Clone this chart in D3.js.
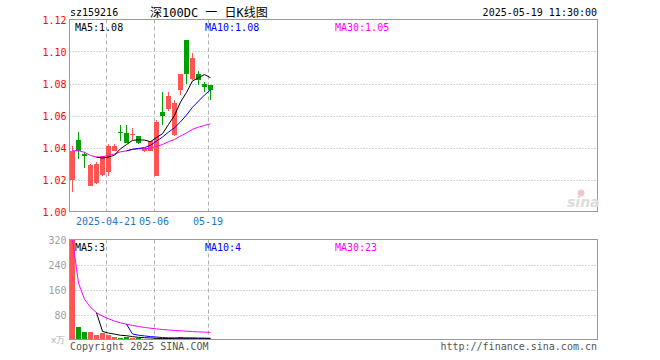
<!DOCTYPE html>
<html><head><meta charset="utf-8">
<script src="https://cdn.jsdelivr.net/npm/d3@7"></script>
<style>
body{margin:0;background:#fff}
svg{display:block}
text{font-family:"DejaVu Sans Mono","Liberation Mono",monospace;font-size:10px}
</style>
</head><body>
<svg id="c" width="660" height="360"></svg>
<script>
// ---- data ----
const code = "sz159216";
const title = "深100DC 一 日K线图";
const stamp = "2025-05-19 11:30:00";
const dates = ["2025-04-11","2025-04-14","2025-04-15","2025-04-16","2025-04-17","2025-04-18",
  "2025-04-21","2025-04-22","2025-04-23","2025-04-24","2025-04-25","2025-04-28","2025-04-29",
  "2025-04-30","2025-05-06","2025-05-07","2025-05-08","2025-05-09","2025-05-12","2025-05-13",
  "2025-05-14","2025-05-15","2025-05-16","2025-05-19"];
const open  = [1.020,1.045,1.036,1.016,1.018,1.023,1.025,1.038,1.0495,1.049,1.0478,1.047,1.038,1.038,1.022,1.062,1.064,1.048,1.076,1.107,1.083,1.086,1.080,1.079];
const high  = [1.041,1.050,1.037,1.030,1.031,1.035,1.042,1.042,1.054,1.054,1.052,1.047,1.040,1.044,1.057,1.075,1.075,1.070,1.086,1.107,1.099,1.088,1.081,1.079];
const low   = [1.012,1.033,1.027,1.016,1.017,1.022,1.022,1.038,1.044,1.043,1.045,1.042,1.037,1.038,1.022,1.054,1.063,1.047,1.073,1.080,1.082,1.079,1.075,1.070];
const close = [1.038,1.038,1.035,1.029,1.030,1.035,1.041,1.041,1.049,1.043,1.0482,1.043,1.040,1.044,1.056,1.060,1.072,1.068,1.086,1.086,1.096,1.082,1.078,1.076];
const volume = [320,41.6,25.6,25.6,16,20.3,15,9.6,6.4,9.6,5.3,4,3,3,3.5,2.5,6,4,7,3.5,3.5,2.5,3,2.5];
const dateTickIdx = [6,14,23];
const priceTicks = [1.00,1.02,1.04,1.06,1.08,1.10,1.12];
const volTicks = [80,160,240,320];
const volUnit = "x万";

// ---- helpers ----
function ma(arr, n, partial){
  return arr.map((d,i)=>{
    if(i < n-1 && !partial) return null;
    const s = arr.slice(Math.max(0,i-n+1), i+1);
    return d3.mean(s);
  });
}
const RED="#ff5555", GREEN="#00a000", GRID="#aaaaaa", BORDER="#999999";

const svg = d3.select("#c");
const L=69.5, R=597.5, PT=19.5, PB=211.5, VT=239.5, VB=339.5;
const nSlots = 88;
const x = d3.scaleBand().domain(d3.range(nSlots)).range([L,R]).paddingInner(1/6).paddingOuter(1/12);
const bw = x.bandwidth();
const y = d3.scaleLinear().domain([1.00,1.12]).range([PB,PT]);
const yv = d3.scaleLinear().domain([0,320]).range([VB,VT]);
const idx = d3.range(dates.length);

// ---- grids ----
const gP = svg.append("g");
gP.selectAll("line.h").data(priceTicks.slice(1,-1)).join("line")
  .attr("x1",L).attr("x2",R).attr("y1",d=>Math.round(y(d))+0.5).attr("y2",d=>Math.round(y(d))+0.5)
  .attr("stroke",GRID).attr("stroke-dasharray","1,2");
gP.selectAll("line.hv").data(volTicks.slice(0,-1)).join("line")
  .attr("x1",L).attr("x2",R).attr("y1",d=>Math.round(yv(d))+0.5).attr("y2",d=>Math.round(yv(d))+0.5)
  .attr("stroke",GRID).attr("stroke-dasharray","1,2");
dateTickIdx.forEach(i=>{
  const xx = Math.round(x(i))+0.5;
  [[PT,PB],[VT,VB]].forEach(([a,b])=>{
    svg.append("line").attr("x1",xx).attr("x2",xx).attr("y1",a).attr("y2",b)
      .attr("stroke","#b0b0b0").attr("stroke-dasharray","4,3");
  });
});

// ---- candles ----
const cg = svg.append("g").attr("shape-rendering","crispEdges");
const col = i => close[i] < open[i] ? GREEN : RED;
cg.selectAll("line.w").data(idx).join("line")
  .attr("x1",i=>x(i)+bw/2).attr("x2",i=>x(i)+bw/2)
  .attr("y1",i=>y(high[i])).attr("y2",i=>y(low[i]))
  .attr("stroke",col);
cg.selectAll("rect.b").data(idx).join("rect")
  .attr("x",i=>x(i)).attr("width",bw)
  .attr("y",i=>y(Math.max(open[i],close[i])))
  .attr("height",i=>Math.max(1,Math.abs(y(open[i])-y(close[i]))))
  .attr("fill",col);

// ---- volume bars ----
cg.selectAll("rect.v").data(idx).join("rect")
  .attr("x",i=>x(i)).attr("width",bw)
  .attr("y",i=>yv(volume[i])).attr("height",i=>Math.max(1,VB-yv(volume[i])))
  .attr("fill",col);

// ---- MA lines ----
const pm5=ma(close,5), pm10=ma(close,10), pm30=ma(close,30,true);
const vm5=ma(volume,5), vm10=ma(volume,10), vm30=ma(volume,30,true);
function drawLine(vals, sc, color){
  const line = d3.line().defined(d=>d!=null).x((d,i)=>x(i)+bw/2).y(d=>sc(d));
  svg.append("path").datum(vals).attr("d",line).attr("fill","none")
    .attr("stroke",color).attr("stroke-width",1);
}
drawLine(pm30,y,"#ff00ff"); drawLine(pm10,y,"#0000ff"); drawLine(pm5,y,"#000000");
drawLine(vm30,yv,"#ff00ff"); drawLine(vm10,yv,"#0000ff"); drawLine(vm5,yv,"#000000");

// ---- borders ----
svg.append("rect").attr("x",L).attr("y",PT).attr("width",R-L).attr("height",PB-PT)
  .attr("fill","none").attr("stroke",BORDER);
svg.append("rect").attr("x",L).attr("y",VT).attr("width",R-L).attr("height",VB-VT)
  .attr("fill","none").attr("stroke",BORDER);

// ---- axes ----
const ay = svg.append("g").attr("transform",`translate(${L-3},0)`)
  .call(d3.axisLeft(y).tickValues(priceTicks).tickSize(0).tickPadding(0).tickFormat(d3.format(".2f")));
ay.select(".domain").remove();
ay.selectAll("text").attr("fill","#ff0000").style("font-size","10px").attr("dy","0.4em");

const av = svg.append("g").attr("transform",`translate(${L-3},0)`)
  .call(d3.axisLeft(yv).tickValues(volTicks).tickSize(0).tickPadding(0));
av.select(".domain").remove();
av.selectAll("text").attr("fill","#a0a0a0").style("font-size","10px").attr("dy","0.4em");
svg.append("text").attr("x",L-4).attr("y",VB+3).attr("text-anchor","end")
  .attr("fill","#b0b0b0").style("font-size","9px").text(volUnit);

const ax = svg.append("g").attr("transform",`translate(0,${PB})`)
  .call(d3.axisBottom(x).tickValues(dateTickIdx).tickSize(0).tickPadding(0)
    .tickFormat((i,k)=> k===0 ? dates[i] : dates[i].slice(5)));
ax.select(".domain").remove();
ax.selectAll("text").attr("fill","#1a78c8").style("font-size","10px").attr("dy","1.3em")
  .attr("transform",`translate(${-bw/2},0)`);

// ---- header texts ----
svg.append("text").attr("x",70).attr("y",16).attr("fill","#000").text(code);
svg.append("text").attr("x",150).attr("y",17).attr("fill","#000")
  .style("font-size","12px").style("font-family","'DejaVu Sans Mono','Noto Sans CJK SC',monospace").text(title);
svg.append("text").attr("x",597).attr("y",16).attr("text-anchor","end").attr("fill","#000").text(stamp);

const f2 = d3.format(".2f");
const last = a => a[a.length-1];
svg.append("text").attr("x",75).attr("y",31).attr("fill","#000").text("MA5:"+f2(last(pm5)));
svg.append("text").attr("x",205).attr("y",31).attr("fill","#0000ff").text("MA10:"+f2(last(pm10)));
svg.append("text").attr("x",335).attr("y",31).attr("fill","#ff00ff").text("MA30:"+f2(last(pm30)));
svg.append("text").attr("x",75).attr("y",251).attr("fill","#000").text("MA5:"+Math.round(last(vm5)));
svg.append("text").attr("x",205).attr("y",251).attr("fill","#0000ff").text("MA10:"+Math.round(last(vm10)));
svg.append("text").attr("x",335).attr("y",251).attr("fill","#ff00ff").text("MA30:"+Math.round(last(vm30)));

svg.append("text").attr("x",70).attr("y",350).attr("fill","#555").text("Copyright 2025 SINA.COM");
svg.append("text").attr("x",597).attr("y",350).attr("text-anchor","end").attr("fill","#555").text("http://finance.sina.com.cn");

// ---- watermark ----
const wm = svg.append("g").attr("transform","translate(567,207)");
wm.append("text").attr("x",0).attr("y",0).attr("fill","#dcdcdc")
  .style("font-family","'DejaVu Sans',sans-serif").style("font-size","14px")
  .style("font-weight","bold").style("font-style","italic").text("sina");
wm.append("circle").attr("cx",14).attr("cy",-14).attr("r",3.5).attr("fill","#f0c8c8");
</script>
</body></html>
